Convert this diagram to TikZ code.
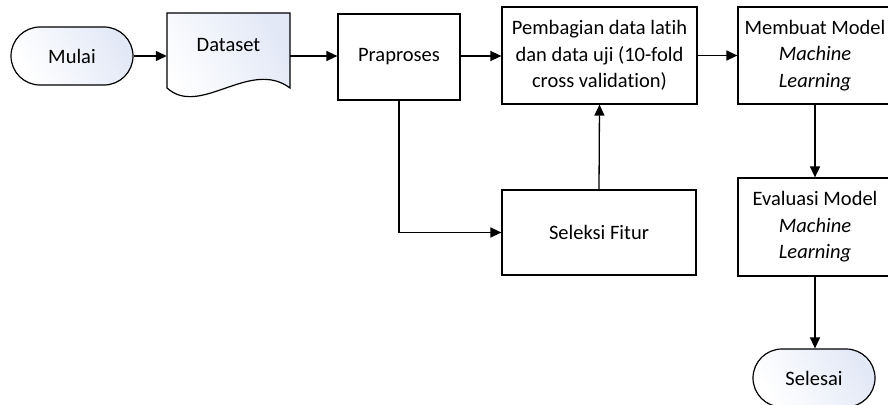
\documentclass[tikz,border=0pt]{standalone}
\usepackage{fontspec}
\setmainfont[Ligatures=NoCommon]{Carlito}
\usetikzlibrary{arrows.meta}
\definecolor{termfill}{RGB}{226,232,246}
\tikzset{
  every node/.style={font=\fontsize{20.5}{26.5}\selectfont, align=center, inner sep=0pt},
  box/.style={draw, line width=1.2pt, minimum width=#1},
  term/.style={draw, line width=1.2pt, rounded corners=29pt, minimum width=122pt, minimum height=58pt,
    left color=termfill, right color=white, shading angle=-60},
  conn/.style={line width=1.3pt, -{Triangle[length=11pt,width=10pt]}},
  plainline/.style={line width=1.3pt}
}
\begin{document}
\begin{tikzpicture}[x=1pt,y=-1pt]
\useasboundingbox (0,0) rectangle (888,404);
% Mulai
\node[term] (mulai) at (72,56) {Mulai};
% Dataset (document shape)
\node[minimum width=123pt, minimum height=75pt] (dataset) at (228.5,50.5) {};
\shade[left color=termfill, right color=white, shading angle=-60, draw, line width=1.2pt]
  (167,13) -- (290,13) -- (290,88) .. controls (250,58) and (200,118) .. (167,88) -- cycle;
\node at (228.5,45) {Dataset};
% Praproses
\node[box=122pt, minimum height=86pt] (prapro) at (399,57) {Praproses};
% Pembagian
\node[box=195pt, minimum height=97pt] (bagi) at (599.5,55.5) {Pembagian data latih\\dan data uji (10-fold\\cross validation)};
% Membuat
\node[box=154pt, minimum height=97pt] (buat) at (815,55.5) {Membuat Model\\\textit{Machine}\\\textit{Learning}};
% Seleksi
\node[box=194pt, minimum height=85pt] (seleksi) at (599,232.5) {Seleksi Fitur};
% Evaluasi
\node[box=154pt, minimum height=98pt] (eval) at (815,227) {Evaluasi Model\\\textit{Machine}\\\textit{Learning}};
% Selesai
\node[term] (selesai) at (814,378) {Selesai};
% connectors
\draw[conn] (mulai.east) -- (dataset.west |- mulai.east);
\draw[conn] (dataset.east |- mulai.east) -- (prapro.west |- mulai.east);
\draw[conn] (prapro.east |- mulai.east) -- (bagi.west |- mulai.east);
\draw[conn] (bagi.east) -- (buat.west);
\draw[conn] (prapro.south) |- (seleksi.west);
\draw[conn] (seleksi.north) -- (bagi.south);
\draw[conn] (buat.south) -- (eval.north);
\draw[conn] (eval.south) -- (selesai.north -| eval.south);
\end{tikzpicture}
\end{document}
